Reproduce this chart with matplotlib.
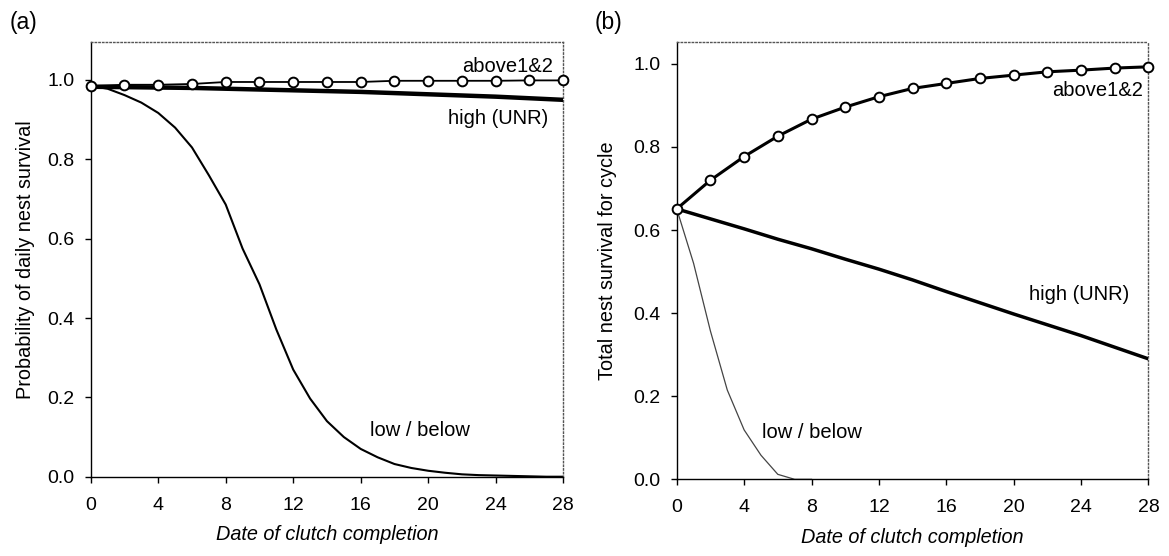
import matplotlib
matplotlib.use("Agg")
import matplotlib.pyplot as plt

plt.rcParams['font.family'] = ['Liberation Sans', 'DejaVu Sans']

# ---- data ----
days2 = [0, 2, 4, 6, 8, 10, 12, 14, 16, 18, 20, 22, 24, 26, 28]
days1 = list(range(0, 29))
a_above = [0.985, 0.988, 0.988, 0.990, 0.995, 0.995, 0.995, 0.995, 0.995, 0.998, 0.998, 0.998, 0.998, 0.999, 0.999]
a_high = [0.983, 0.982, 0.981, 0.980, 0.978, 0.976, 0.974, 0.972, 0.970, 0.967, 0.964, 0.961, 0.958, 0.954, 0.950]
a_low = [0.985, 0.978, 0.962, 0.943, 0.917, 0.880, 0.830, 0.760, 0.686, 0.575,
         0.485, 0.371, 0.270, 0.197, 0.140, 0.100, 0.070, 0.049, 0.032, 0.022,
         0.015, 0.010, 0.006, 0.004, 0.003, 0.002, 0.001, 0.0, 0.0]

b_above = [0.651, 0.720, 0.777, 0.826, 0.867, 0.896, 0.921, 0.941, 0.953, 0.965, 0.973, 0.981, 0.985, 0.990, 0.993]
b_high = [0.651, 0.627, 0.603, 0.578, 0.555, 0.530, 0.506, 0.480, 0.452, 0.425, 0.398, 0.372, 0.346, 0.318, 0.290]
days_low_b = [0, 1, 2, 3, 4, 5, 6, 7, 8]
b_low = [0.651, 0.520, 0.357, 0.215, 0.119, 0.058, 0.012, 0.0, 0.0]

xticks = [0, 4, 8, 12, 16, 20, 24, 28]
yticks = [0.0, 0.2, 0.4, 0.6, 0.8, 1.0]
xlabel = "Date of clutch completion"
ylabel_a = "Probability of daily nest survival"
ylabel_b = "Total nest survival for cycle"

fig = plt.figure(figsize=(11.69, 5.56), dpi=100)
ax1 = fig.add_axes([0.0776, 0.1426, 0.4042, 0.7813])
ax2 = fig.add_axes([0.5789, 0.1379, 0.4035, 0.7860])

TFS = 14      # tick labels
LFS = 14.3    # axis labels
AFS = 14.5    # annotations

def style(ax, ymax):
    ax.set_xlim(0, 28)
    ax.set_ylim(0, ymax)
    ax.set_xticks(xticks)
    ax.set_yticks(yticks)
    ax.set_yticklabels([f"{v:.1f}" for v in yticks])
    ax.tick_params(direction='out', length=4.5, width=1, labelsize=TFS)
    ax.tick_params(axis='x', pad=10)
    ax.tick_params(axis='y', pad=7)
    for s in ['top', 'right']:
        ax.spines[s].set_color('#555555')
        ax.spines[s].set_linestyle(':')
        ax.spines[s].set_linewidth(1.0)
    for s in ['left', 'bottom']:
        ax.spines[s].set_color('black')
        ax.spines[s].set_linewidth(1.0)
    ax.set_xlabel(xlabel, fontsize=LFS, style='italic', labelpad=8)

style(ax1, 1.095)
style(ax2, 1.052)

# panel (a)
ax1.plot(days1, a_low, color='black', lw=1.5, zorder=2)
ax1.plot(days2, a_high, color='black', lw=3.2, zorder=3)
ax1.plot(days2, a_above, color='black', lw=1.3, marker='o', ms=7,
         mfc='white', mec='black', mew=1.4, zorder=4, clip_on=False)
ax1.set_ylabel(ylabel_a, fontsize=LFS, labelpad=9)
ax1.text(22.0, 1.035, "above1&2", fontsize=AFS, va='center', ha='left')
ax1.text(21.2, 0.902, "high (UNR)", fontsize=AFS, va='center', ha='left')
ax1.text(16.55, 0.117, "low / below", fontsize=AFS, va='center', ha='left')

# panel (b)
ax2.plot(days_low_b, b_low, color='#444444', lw=0.9, zorder=2)
ax2.plot(days2, b_high, color='black', lw=2.5, zorder=3)
ax2.plot(days2, b_above, color='black', lw=2.2, marker='o', ms=7,
         mfc='white', mec='black', mew=1.4, zorder=4, clip_on=False)
ax2.set_ylabel(ylabel_b, fontsize=LFS, labelpad=12)
ax2.text(22.3, 0.936, "above1&2", fontsize=AFS, va='center', ha='left')
ax2.text(20.9, 0.446, "high (UNR)", fontsize=AFS, va='center', ha='left')
ax2.text(5.06, 0.113, "low / below", fontsize=AFS, va='center', ha='left')

fig.text(10 / 1169, 1 - 22 / 556, "(a)", fontsize=16.5, va='center', ha='left')
fig.text(595 / 1169, 1 - 22 / 556, "(b)", fontsize=16.5, va='center', ha='left')

fig.savefig("out.png", dpi=100)
